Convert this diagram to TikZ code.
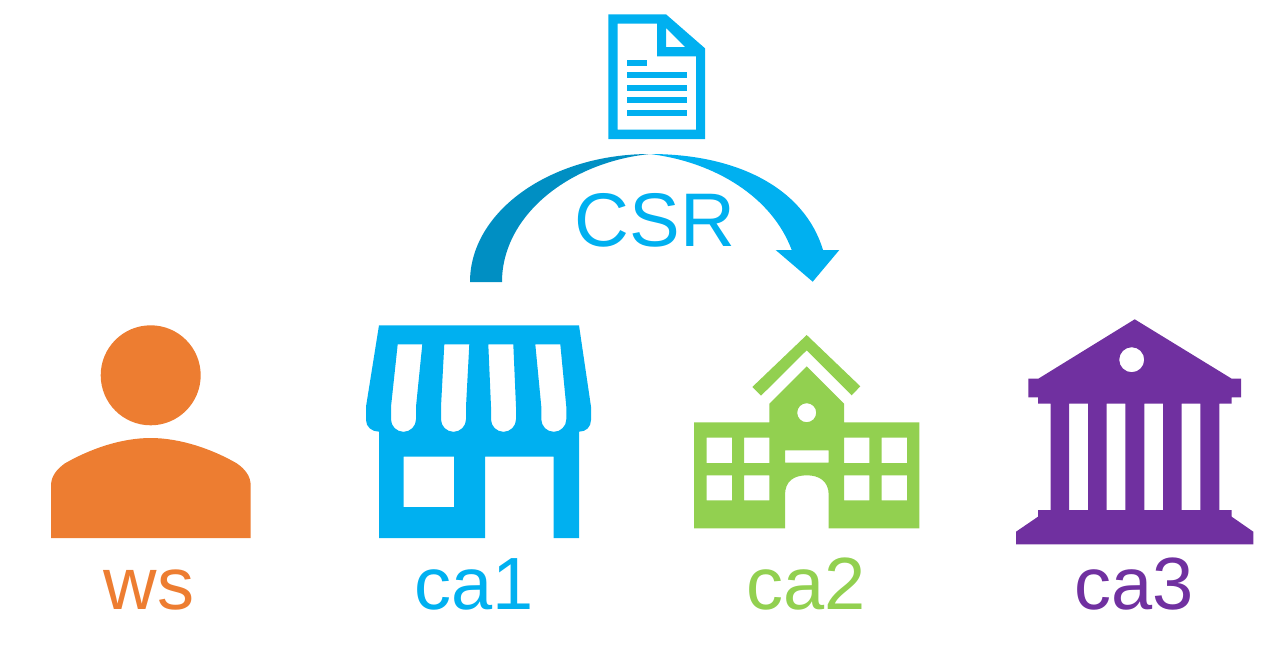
\documentclass[tikz,border=0pt]{standalone}
\usepackage{fontspec}
\setmainfont{Liberation Sans}
\definecolor{csrblue}{HTML}{00B0F0}
\definecolor{csrdark}{HTML}{008FC3}
\definecolor{wsorange}{HTML}{ED7D31}
\definecolor{cagreen}{HTML}{92D050}
\definecolor{capurple}{HTML}{7030A0}

\begin{document}
\begin{tikzpicture}[
    x=1pt, y=-1pt,
    icon/.style={fill=#1, draw=none, even odd rule},
    hostlabel/.style={anchor=base, inner sep=0pt, text=#1, font=\fontsize{74}{74}\selectfont}
]
\useasboundingbox (0,0) rectangle (1283,670);

% Document
\fill[icon=csrblue] (608.3,14.3) -- (666,14.3) -- (705,48.3) -- (705,139) -- (608.3,139) -- cycle
    (617.7,23.7) -- (657,23.7) -- (657,56.3) -- (696,56.3) -- (696,129.7) -- (617.7,129.7) -- cycle
    (666,28) -- (685,47) -- (666,47) -- cycle;
\fill[icon=csrblue] (627,59.7) rectangle (647.3,66);
\foreach \y in {72.3,84.7,97.3,110} {
    \fill[icon=csrblue] (627,\y) rectangle (686.7,\y+6);
}

% Curved arrow
\fill[csrdark] (470,282) .. controls (470,211) and (551,154) .. (650,154)
    .. controls (570,162) and (502,215) .. (502,282) -- cycle;
\fill[csrblue] (650,154) .. controls (740,154) and (805,190) .. (823,250)
    -- (839.3,250) -- (812.7,281.7) -- (775.7,250) -- (791.7,250)
    .. controls (772,197) and (715,162) .. (650,154) -- cycle;
\node[anchor=base, inner sep=0pt, text=csrblue, font=\fontsize{76}{76}\selectfont] (csr) at (655,246) {CSR};

% Person
\fill[icon=wsorange] (150.7,375.3) circle[radius=50];
\fill[icon=wsorange] (51,538) -- (250.7,538) -- (250.7,485.7)
    .. controls (250.7,476) and (245,469) .. (236.7,463.3)
    .. controls (212,449) and (180,438) .. (150.7,438)
    .. controls (121,438) and (90,449) .. (65,463.3)
    .. controls (57,469) and (51,476) .. (51,485.7) -- cycle;

% Store
\fill[icon=csrblue] (379,325.3) -- (579,325.3) -- (591,406.7) -- (591,420)
    .. controls (591,427) and (586,431.7) .. (579,431.7)
    -- (579,538) -- (553.7,538) -- (553.7,456.7) -- (485,456.7) -- (485,538) -- (379,538) -- (379,431.7)
    .. controls (372,431.7) and (366,427) .. (366,420) -- (366,406.7) -- cycle
    (403.7,456.7) rectangle (454,507)
    \foreach \a/\b/\c/\d in {397.7/422.3/416/391, 444.3/469.3/466/441, 488.3/513.3/516/491, 535.3/560.3/566.3/541.3} {
        (\a,344.3) -- (\b,344.3) -- (\c,406.7) -- (\c,419.3) arc[start angle=0, end angle=180, radius=12.5] -- (\d,406.7) -- cycle
    };

% School
\fill[icon=cagreen] (806.7,335) -- (860.3,386.3) -- (851.7,395.3) -- (806.7,350.3) -- (761,395.7) -- (752.3,387) -- cycle;
\fill[icon=cagreen] (806.7,366.3) -- (844,403.7) -- (844,422.3) -- (919.3,422.3) -- (919.3,528.3) -- (828.7,528.3) -- (828.7,495)
    .. controls (828.7,481) and (819,475.3) .. (806.8,475.3)
    .. controls (794,475.3) and (785,481) .. (785,495)
    -- (785,528.3) -- (694,528.3) -- (694,422.3) -- (769.3,422.3) -- (769.3,403.7) -- cycle
    (806.7,412.7) circle[radius=9.5]
    (785,450.3) rectangle (828.7,462.7)
    \foreach \a/\b in {706.7/732, 744/769.3, 844/869.3, 881.7/907} {
        (\a,437.7) rectangle (\b,463)
        (\a,475.3) rectangle (\b,500.3)
    };

% Bank
\fill[icon=capurple] (1134.7,319.3) -- (1231.7,378.7) -- (1241,378.7) -- (1241,397.3) -- (1231.7,397.3) -- (1231.7,403.7) -- (1219.3,403.7)
    -- (1219.3,510) -- (1231.7,510) -- (1231.7,516.7) -- (1253.3,531.7) -- (1253.3,544.3) -- (1016,544.3) -- (1016,531.7)
    -- (1038,516.7) -- (1038,510) -- (1050.7,510) -- (1050.7,403.7) -- (1038,403.7) -- (1038,397.3) -- (1028.3,397.3)
    -- (1028.3,378.7) -- (1038.3,378.7) -- cycle
    (1131.7,359.7) circle[radius=12.5]
    \foreach \a/\b in {1069/1088, 1106.7/1125.3, 1144.3/1163, 1181.7/1200.3} {
        (\a,403.7) rectangle (\b,510)
    };

% Labels
\node[hostlabel=wsorange] (ws) at (149,609.5) {ws};
\node[hostlabel=csrblue] (ca1) at (474,609.5) {ca1};
\node[hostlabel=cagreen] (ca2) at (806,609.5) {ca2};
\node[hostlabel=capurple] (ca3) at (1134,609.5) {ca3};

\end{tikzpicture}
\end{document}
